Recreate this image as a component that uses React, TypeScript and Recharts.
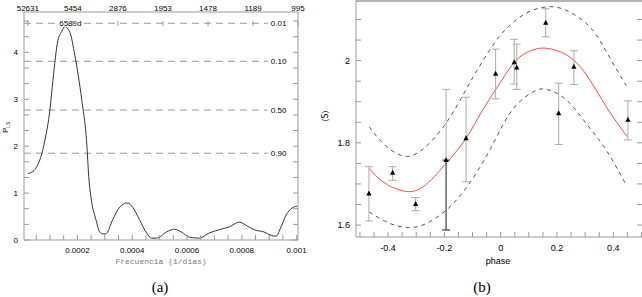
import {
  ComposedChart,
  Line,
  XAxis,
  YAxis,
  ReferenceLine,
  ReferenceDot,
  Scatter,
  ErrorBar,
} from "recharts";

// ---- (a) Lomb-Scargle periodogram ----
const freq = [
  0.0000195, 0.0000377, 0.0000523, 0.0000705, 0.0000814, 0.0000995, 0.0001105, 0.0001286,
  0.0001432, 0.0001541, 0.0001723, 0.0001904, 0.0002159, 0.0002341, 0.0002413, 0.0002523,
  0.0002668, 0.0002813, 0.0002922, 0.0003032, 0.0003286, 0.0003541, 0.0003832, 0.0004013,
  0.0004268, 0.0004522, 0.0004704, 0.0004886, 0.0005249, 0.000554, 0.0005795, 0.0006086,
  0.0006449, 0.0006813, 0.0007177, 0.000754, 0.0007904, 0.0008195, 0.0008449, 0.0008813,
  0.0009068, 0.000925, 0.0009431, 0.0009613, 0.0009831, 0.0010013,
];
const power = [
  1.42, 1.46, 1.57, 1.85, 2.13, 2.77, 3.4, 4.25,
  4.45, 4.55, 4.43, 3.94, 2.98, 2.05, 1.35, 0.8,
  0.45, 0.17, 0.13, 0.13, 0.43, 0.7, 0.79, 0.7,
  0.43, 0.15, 0.04, 0.04, 0.17, 0.23, 0.17, 0.06,
  0.04, 0.15, 0.22, 0.28, 0.38, 0.3, 0.22, 0.17,
  0.1, 0.08, 0.28, 0.53, 0.68, 0.72,
];
const freqLabels = ["0.0002", "0.0004", "0.0006", "0.0008", "0.001"];
const periodLabels = [52631, 5454, 2876, 1953, 1478, 1189, 995];
const fapLevels = [4.62, 3.81, 2.77, 1.85];
const fapLabels = ["0.01", "0.10", "0.50", "0.90"];
const peakPeriod = 6589;

// ---- (b) phase-folded <S> ----
const phase = [-0.468, -0.384, -0.302, -0.194, -0.123, -0.018, 0.048, 0.057, 0.16, 0.206, 0.26, 0.452];
const sIndex = [1.677, 1.727, 1.651, 1.758, 1.811, 1.968, 1.996, 1.983, 2.092, 1.872, 1.985, 1.856];
const sLow = [1.61, 1.709, 1.635, 1.588, 1.705, 1.907, 1.943, 1.93, 2.058, 1.796, 1.942, 1.807];
const sHigh = [1.742, 1.742, 1.667, 1.93, 1.911, 2.028, 2.052, 2.04, 2.126, 1.945, 2.024, 1.902];

const fitPhase = [-0.467, -0.418, -0.347, -0.276, -0.194, -0.123, -0.064, -0.002, 0.057, 0.115, 0.163, 0.234, 0.304, 0.375, 0.449];
const fitS = [1.738, 1.705, 1.683, 1.693, 1.75, 1.811, 1.88, 1.946, 2.002, 2.026, 2.03, 2.014, 1.966, 1.888, 1.815];
const upPhase = [-0.467, -0.418, -0.347, -0.276, -0.194, -0.123, -0.064, -0.002, 0.057, 0.115, 0.186, 0.257, 0.328, 0.387, 0.446];
const upS = [1.839, 1.799, 1.768, 1.785, 1.848, 1.93, 1.999, 2.061, 2.1, 2.123, 2.131, 2.114, 2.073, 2.008, 1.939];
const loPhase = [-0.467, -0.394, -0.324, -0.264, -0.194, -0.123, -0.052, 0.005, 0.057, 0.115, 0.163, 0.234, 0.304, 0.375, 0.446];
const loS = [1.632, 1.604, 1.594, 1.604, 1.636, 1.69, 1.766, 1.84, 1.893, 1.924, 1.93, 1.904, 1.847, 1.782, 1.697];

const FONT = '"Liberation Sans", Arial, sans-serif';
const AXIS = "#999";

const lsData = freq.map((f, i) => ({ f, p: power[i] }));
const pts = phase.map((p, i) => ({
  p,
  v: sIndex[i],
  err: [sIndex[i] - sLow[i], sHigh[i] - sIndex[i]],
  // lower half of this bar is drawn dark in the original
  dark: i === 3 ? [sIndex[i] - sLow[i], 0] : null,
}));
const fitData = fitPhase.map((p, i) => ({ p, v: fitS[i] }));
const upData = upPhase.map((p, i) => ({ p, v: upS[i] }));
const loData = loPhase.map((p, i) => ({ p, v: loS[i] }));

const F_MIN = 0.000005;
const F_MAX = 0.001005;
const DASH_END = 0.000895;

const steps = (start: number, step: number, n: number) =>
  Array.from({ length: n }, (_, k) => Number((start + k * step).toFixed(6)));
const freqTicks = steps(0.00005, 0.00005, 20);
const powTicks = Array.from({ length: 15 }, (_, k) => k / 3);
const topTicks = periodLabels.map((p) => 1 / p);
const phaseTicks = steps(-0.5, 0.05, 21);
const sTicks = steps(1.6, 0.05, 11);

const near = (a: number, b: number) => Math.abs(a - b) < 1e-7;

const FreqTick = (props: any) => {
  const { x, y, payload } = props;
  const idx = [0.0002, 0.0004, 0.0006, 0.0008, 0.001].findIndex((m) => near(m, payload.value));
  return (
    <g>
      <line x1={x} x2={x} y1={y} y2={y - 5} stroke={AXIS} />
      {idx >= 0 && (
        <text x={x} y={y + 13} textAnchor="middle" fontSize={8} fontFamily={FONT} fill="#000">
          {freqLabels[idx]}
        </text>
      )}
    </g>
  );
};

const PeriodTick = (props: any) => {
  const { x, y, payload } = props;
  const idx = topTicks.findIndex((t) => near(t, payload.value));
  return (
    <g>
      <text x={x} y={y - 1} textAnchor="middle" fontSize={8} fontFamily={FONT} fill="#000">
        {periodLabels[idx]}
      </text>
      <line x1={x} x2={x} y1={y + 9} y2={y + 14} stroke={AXIS} />
    </g>
  );
};

const PowTick = (props: any) => {
  const { x, y, payload } = props;
  const major = near(payload.value, Math.round(payload.value));
  return (
    <g>
      <line x1={x} x2={x + 5} y1={y} y2={y} stroke={AXIS} />
      {major && (
        <text x={x - 6} y={y + 3} textAnchor="end" fontSize={8} fontFamily={FONT} fill="#000">
          {Math.round(payload.value)}
        </text>
      )}
    </g>
  );
};

const RightTick = (props: any) => {
  const { x, y } = props;
  return <line x1={x} x2={x - 5} y1={y} y2={y} stroke={AXIS} />;
};

const PhaseTick = (props: any) => {
  const { x, y, payload } = props;
  const v = payload.value;
  const major = near(v * 5, Math.round(v * 5));
  return (
    <g>
      <line x1={x} x2={x} y1={y} y2={y - 5} stroke={AXIS} />
      {major && Math.abs(v) < 0.45 && (
        <text x={x} y={y + 14} textAnchor="middle" fontSize={9} fontFamily={FONT} fill="#000">
          {String(Number(v.toFixed(2)))}
        </text>
      )}
    </g>
  );
};

const STick = (props: any) => {
  const { x, y, payload } = props;
  const v = payload.value;
  const major = near(v * 5, Math.round(v * 5));
  return (
    <g>
      <line x1={x} x2={x + 5} y1={y} y2={y} stroke={AXIS} />
      {major && (
        <text x={x - 6} y={y + 3} textAnchor="end" fontSize={9} fontFamily={FONT} fill="#000">
          {String(Number(v.toFixed(2)))}
        </text>
      )}
    </g>
  );
};

const Triangle = (props: any) => {
  const { cx, cy } = props;
  return <polygon points={`${cx},${cy - 3} ${cx - 2.6},${cy + 2} ${cx + 2.6},${cy + 2}`} fill="#000" />;
};

function Periodogram() {
  return (
    <ComposedChart width={320} height={297} data={lsData} margin={{ top: 0, right: 0, bottom: 0, left: 0 }}>
      <XAxis
        xAxisId="b"
        dataKey="f"
        type="number"
        domain={[F_MIN, F_MAX]}
        allowDataOverflow
        ticks={freqTicks}
        interval={0}
        tickSize={0}
        tickMargin={0}
        tickLine={false}
        height={57}
        stroke={AXIS}
        tick={(p: any) => <FreqTick {...p} />}
      />
      <XAxis
        xAxisId="t"
        dataKey="f"
        orientation="top"
        type="number"
        domain={[F_MIN, F_MAX]}
        allowDataOverflow
        ticks={topTicks}
        interval={0}
        tickSize={0}
        tickMargin={0}
        tickLine={false}
        height={12}
        stroke={AXIS}
        tick={(p: any) => <PeriodTick {...p} />}
      />
      <YAxis
        yAxisId="l"
        type="number"
        domain={[0, 4.86]}
        allowDataOverflow
        ticks={powTicks}
        interval={0}
        tickSize={0}
        tickMargin={0}
        tickLine={false}
        width={24}
        stroke={AXIS}
        tick={(p: any) => <PowTick {...p} />}
      />
      <YAxis
        yAxisId="r"
        orientation="right"
        type="number"
        domain={[0, 4.86]}
        allowDataOverflow
        ticks={powTicks}
        interval={0}
        tickSize={0}
        tickMargin={0}
        tickLine={false}
        width={22}
        stroke={AXIS}
        tick={(p: any) => <RightTick {...p} />}
      />
      {fapLevels.map((lvl, i) => (
        <ReferenceLine
          key={i}
          xAxisId="b"
          yAxisId="l"
          segment={[
            { x: F_MIN, y: lvl },
            { x: DASH_END, y: lvl },
          ]}
          stroke={AXIS}
          strokeDasharray="7 5"
          label={{ value: fapLabels[i], position: "right", offset: 3, fontSize: 8, fill: "#000", fontFamily: FONT }}
        />
      ))}
      {/* invisible copy so the period axis on top gets a scale */}
      <Line
        xAxisId="t"
        yAxisId="r"
        dataKey="p"
        type="monotone"
        dot={false}
        stroke="none"
        isAnimationActive={false}
      />
      <Line
        xAxisId="b"
        yAxisId="l"
        dataKey="p"
        type="monotone"
        dot={false}
        stroke="#333"
        strokeWidth={1}
        isAnimationActive={false}
      />
      <ReferenceDot
        xAxisId="b"
        yAxisId="l"
        x={1 / peakPeriod}
        y={fapLevels[0]}
        r={1}
        fill="none"
        stroke="none"
        label={(p: any) => (
          <text
            x={p.viewBox.x - 4}
            y={p.viewBox.y + 4}
            fontSize={8}
            fontFamily={FONT}
            fill="#000"
            stroke="#fff"
            strokeWidth={2}
            paintOrder="stroke"
          >
            {peakPeriod}d
          </text>
        )}
      />
    </ComposedChart>
  );
}

function PhasePlot() {
  return (
    <ComposedChart width={323} height={297} margin={{ top: 0, right: 0, bottom: 0, left: 0 }}>
      <XAxis
        dataKey="p"
        type="number"
        domain={[-0.514, 0.502]}
        allowDataOverflow
        ticks={phaseTicks}
        interval={0}
        tickSize={0}
        tickMargin={0}
        tickLine={false}
        height={60}
        stroke={AXIS}
        tick={(p: any) => <PhaseTick {...p} />}
      />
      <XAxis
        xAxisId="top"
        orientation="top"
        type="number"
        domain={[-0.514, 0.502]}
        allowDataOverflow
        height={1}
        tick={false}
        tickLine={false}
        stroke="#666"
      />
      <YAxis
        type="number"
        domain={[1.571, 2.145]}
        allowDataOverflow
        ticks={sTicks}
        interval={0}
        tickSize={0}
        tickMargin={0}
        tickLine={false}
        width={36}
        stroke={AXIS}
        tick={(p: any) => <STick {...p} />}
      />
      <YAxis
        yAxisId="r"
        orientation="right"
        type="number"
        domain={[1.571, 2.145]}
        allowDataOverflow
        ticks={sTicks}
        interval={0}
        tickSize={0}
        tickMargin={0}
        tickLine={false}
        axisLine={false}
        width={1}
        tick={(p: any) => <RightTick {...p} />}
      />
      <Line data={upData} dataKey="v" type="natural" dot={false} stroke="#555" strokeDasharray="4 4" isAnimationActive={false} />
      <Line data={loData} dataKey="v" type="natural" dot={false} stroke="#555" strokeDasharray="4 4" isAnimationActive={false} />
      <Line data={fitData} dataKey="v" type="natural" dot={false} stroke="#ff4a4a" isAnimationActive={false} />
      <Scatter data={pts} dataKey="v" shape={(p: any) => <Triangle {...p} />} isAnimationActive={false}>
        <ErrorBar dataKey="err" direction="y" width={4} stroke="#aaa" strokeWidth={1} />
        <ErrorBar dataKey="dark" direction="y" width={4} stroke="#444" strokeWidth={1} />
      </Scatter>
    </ComposedChart>
  );
}

const abs = (left: number, top: number, extra: any = {}) => ({ position: "absolute" as const, left, top, ...extra });

export default function App() {
  return (
    <div style={abs(0, 0, { width: 642, height: 297, overflow: "hidden", background: "#fff", fontFamily: FONT })}>
      <div style={abs(0, 0)}>
        <Periodogram />
      </div>
      <div style={abs(320, 0)}>
        <PhasePlot />
      </div>
      <div
        style={abs(61, 257, {
          width: 200,
          textAlign: "center",
          fontFamily: '"Liberation Mono", monospace',
          fontSize: 8,
          lineHeight: "10px",
          color: "#777",
        })}
      >
        Frecuencia (1/dias)
      </div>
      <div style={abs(448, 256, { width: 100, textAlign: "center", fontSize: 9, lineHeight: "11px" })}>phase</div>
      <div style={abs(110, 278, { width: 100, textAlign: "center", fontFamily: '"Liberation Serif", serif', fontSize: 15, lineHeight: "18px" })}>
        (a)
      </div>
      <div style={abs(432, 278, { width: 100, textAlign: "center", fontFamily: '"Liberation Serif", serif', fontSize: 15, lineHeight: "18px" })}>
        (b)
      </div>
      <div
        style={abs(-13, 121, {
          width: 40,
          textAlign: "center",
          fontSize: 8,
          lineHeight: "10px",
          transform: "rotate(-90deg)",
        })}
      >
        P<sub style={{ fontSize: 5 }}>LS</sub>
      </div>
      <div
        style={abs(306, 111, {
          width: 40,
          textAlign: "center",
          fontFamily: '"DejaVu Sans", sans-serif',
          fontSize: 8,
          lineHeight: "10px",
          transform: "rotate(-90deg)",
        })}
      >
        ⟨S⟩
      </div>
    </div>
  );
}
